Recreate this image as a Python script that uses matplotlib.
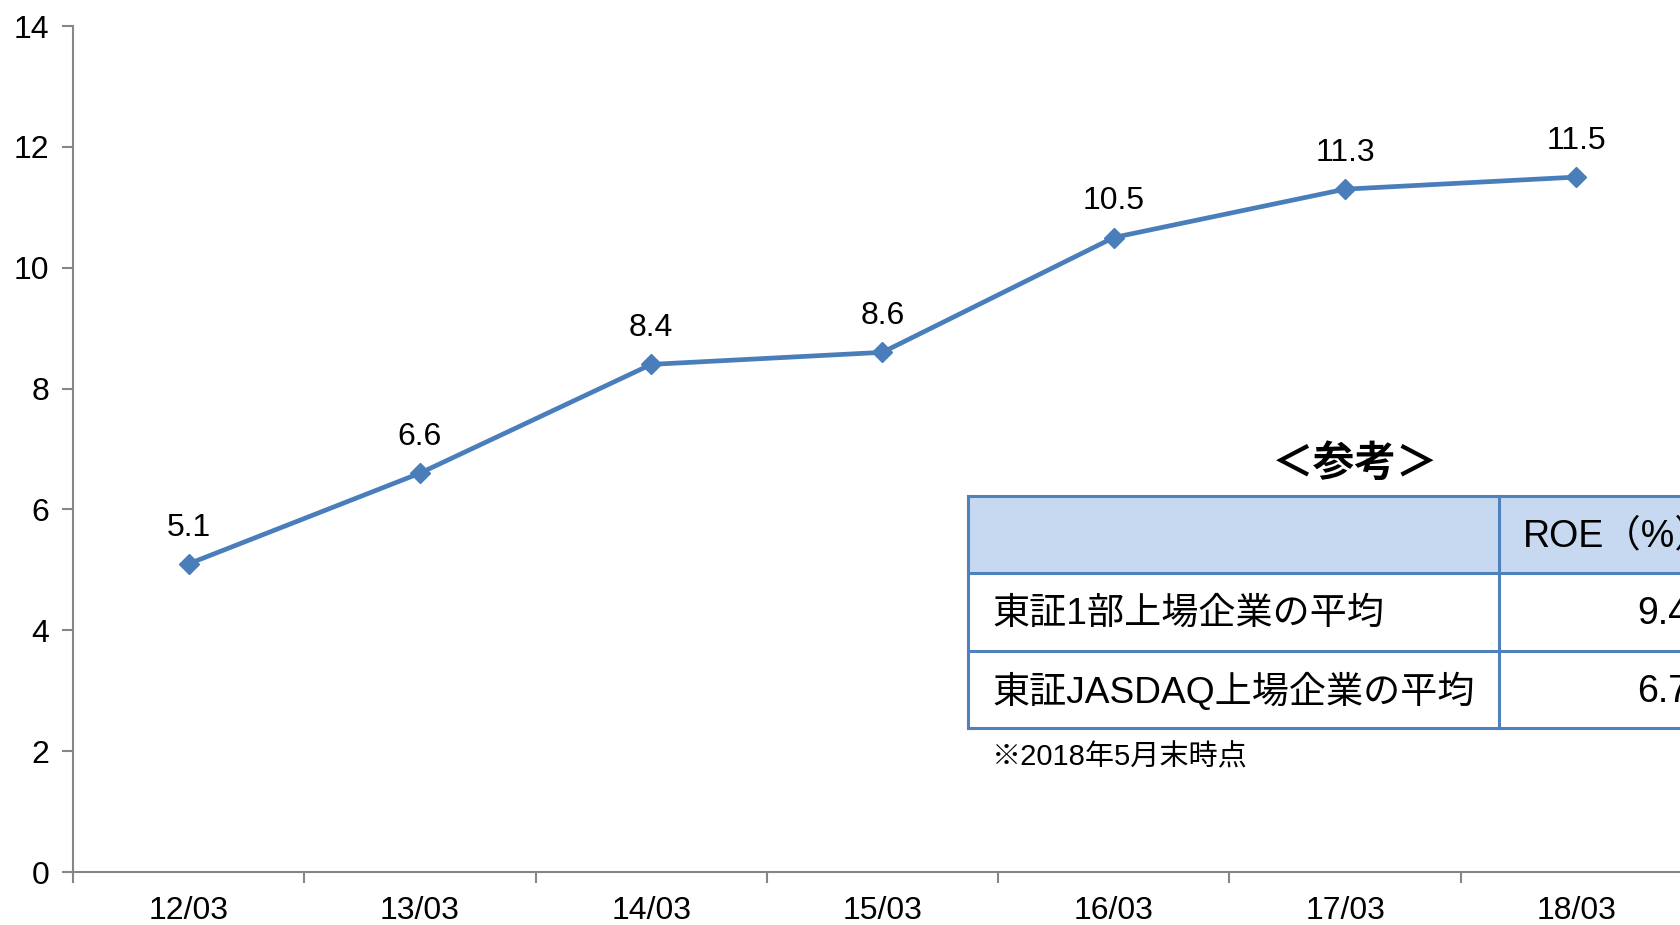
import matplotlib.pyplot as plt
from matplotlib.patches import Rectangle

# ROE推移（決算期別）
periods = ['12/03', '13/03', '14/03', '15/03', '16/03', '17/03', '18/03']
roe = [5.1, 6.6, 8.4, 8.6, 10.5, 11.3, 11.5]

# 参考：市場平均ROE
ref_header = 'ROE（%）'
ref_rows = ['東証1部上場企業の平均', '東証JASDAQ上場企業の平均']
ref_values = [9.4, 6.7]
ref_note = '※2018年5月末時点'

LINE = '#4A7EBB'
AXIS = '#868686'
BORDER = '#4F81BD'
HEAD = '#C6D9F1'
LATIN = ['Liberation Sans', 'Noto Sans CJK JP']
CJK = ['Noto Sans CJK JP', 'DejaVu Sans']

W, H = 1681, 925
fig = plt.figure(figsize=(W / 100, H / 100), dpi=100)

# 軸は右端が画像外まで伸びる配置
ax = fig.add_axes([73 / W, 53 / H, (1692 - 73) / W, 846 / H])
x = list(range(len(periods)))
ax.plot(x, roe, color=LINE, lw=3.4, marker='D', ms=10, mec=LINE, mfc=LINE,
        clip_on=False, zorder=3)
for xi, v in zip(x, roe):
    ax.annotate(f'{v:.1f}', (xi, v), xytext=(0, 26), textcoords='offset points',
                ha='center', va='center', fontsize=23, family=LATIN)

ax.set_xlim(-0.5, len(periods) - 0.5)
ax.set_ylim(0, 14)
ax.set_yticks(range(0, 15, 2))
ax.set_xticks([i - 0.5 for i in range(len(periods) + 1)])
ax.set_xticklabels([])
ax.set_xticks(x, minor=True)
ax.set_xticklabels(periods, minor=True)
ax.tick_params(axis='x', which='major', length=8, width=1.5, color=AXIS, direction='out')
ax.tick_params(axis='x', which='minor', length=0, pad=17, labelsize=23)
ax.tick_params(axis='y', length=8, width=1.5, color=AXIS, direction='out', pad=9, labelsize=23)
for lab in ax.get_xticklabels(minor=True) + ax.get_yticklabels():
    lab.set_family(LATIN)
for side in ['top', 'right']:
    ax.spines[side].set_visible(False)
for side in ['left', 'bottom']:
    ax.spines[side].set_color(AXIS)
    ax.spines[side].set_linewidth(1.5)

# 参考表（ピクセル座標のオーバーレイ）
ov = fig.add_axes([0, 0, 1, 1], facecolor='none')
ov.set_xlim(0, W)
ov.set_ylim(H, 0)
ov.axis('off')

left, split, right = 968, 1499, 1760
rows_y = [496, 573, 651, 728]
ov.add_patch(Rectangle((left, rows_y[0]), right - left, rows_y[1] - rows_y[0],
                       facecolor=HEAD, edgecolor='none', clip_on=False))
for y in rows_y:
    ov.plot([left, right], [y, y], color=BORDER, lw=2.2, clip_on=False)
for xv in [left, split]:
    ov.plot([xv, xv], [rows_y[0], rows_y[-1]], color=BORDER, lw=2.2, clip_on=False)

ov.text(1355, 464, '＜参考＞', ha='center', va='center', fontsize=30,
        fontweight='bold', family=CJK)
ov.text(1523, (rows_y[0] + rows_y[1]) / 2 + 2, ref_header, ha='left', va='center',
        fontsize=27, family=LATIN)
for i, (name, val) in enumerate(zip(ref_rows, ref_values)):
    yc = (rows_y[i + 1] + rows_y[i + 2]) / 2 + 2
    ov.text(992, yc, name, ha='left', va='center', fontsize=26.7, family=LATIN)
    ov.text(1637, yc, f'{val:.1f}', ha='left', va='center', fontsize=27, family=LATIN)
ov.text(992, 757, ref_note, ha='left', va='center', fontsize=21, family=LATIN)

fig.savefig('out.png', dpi=100)
